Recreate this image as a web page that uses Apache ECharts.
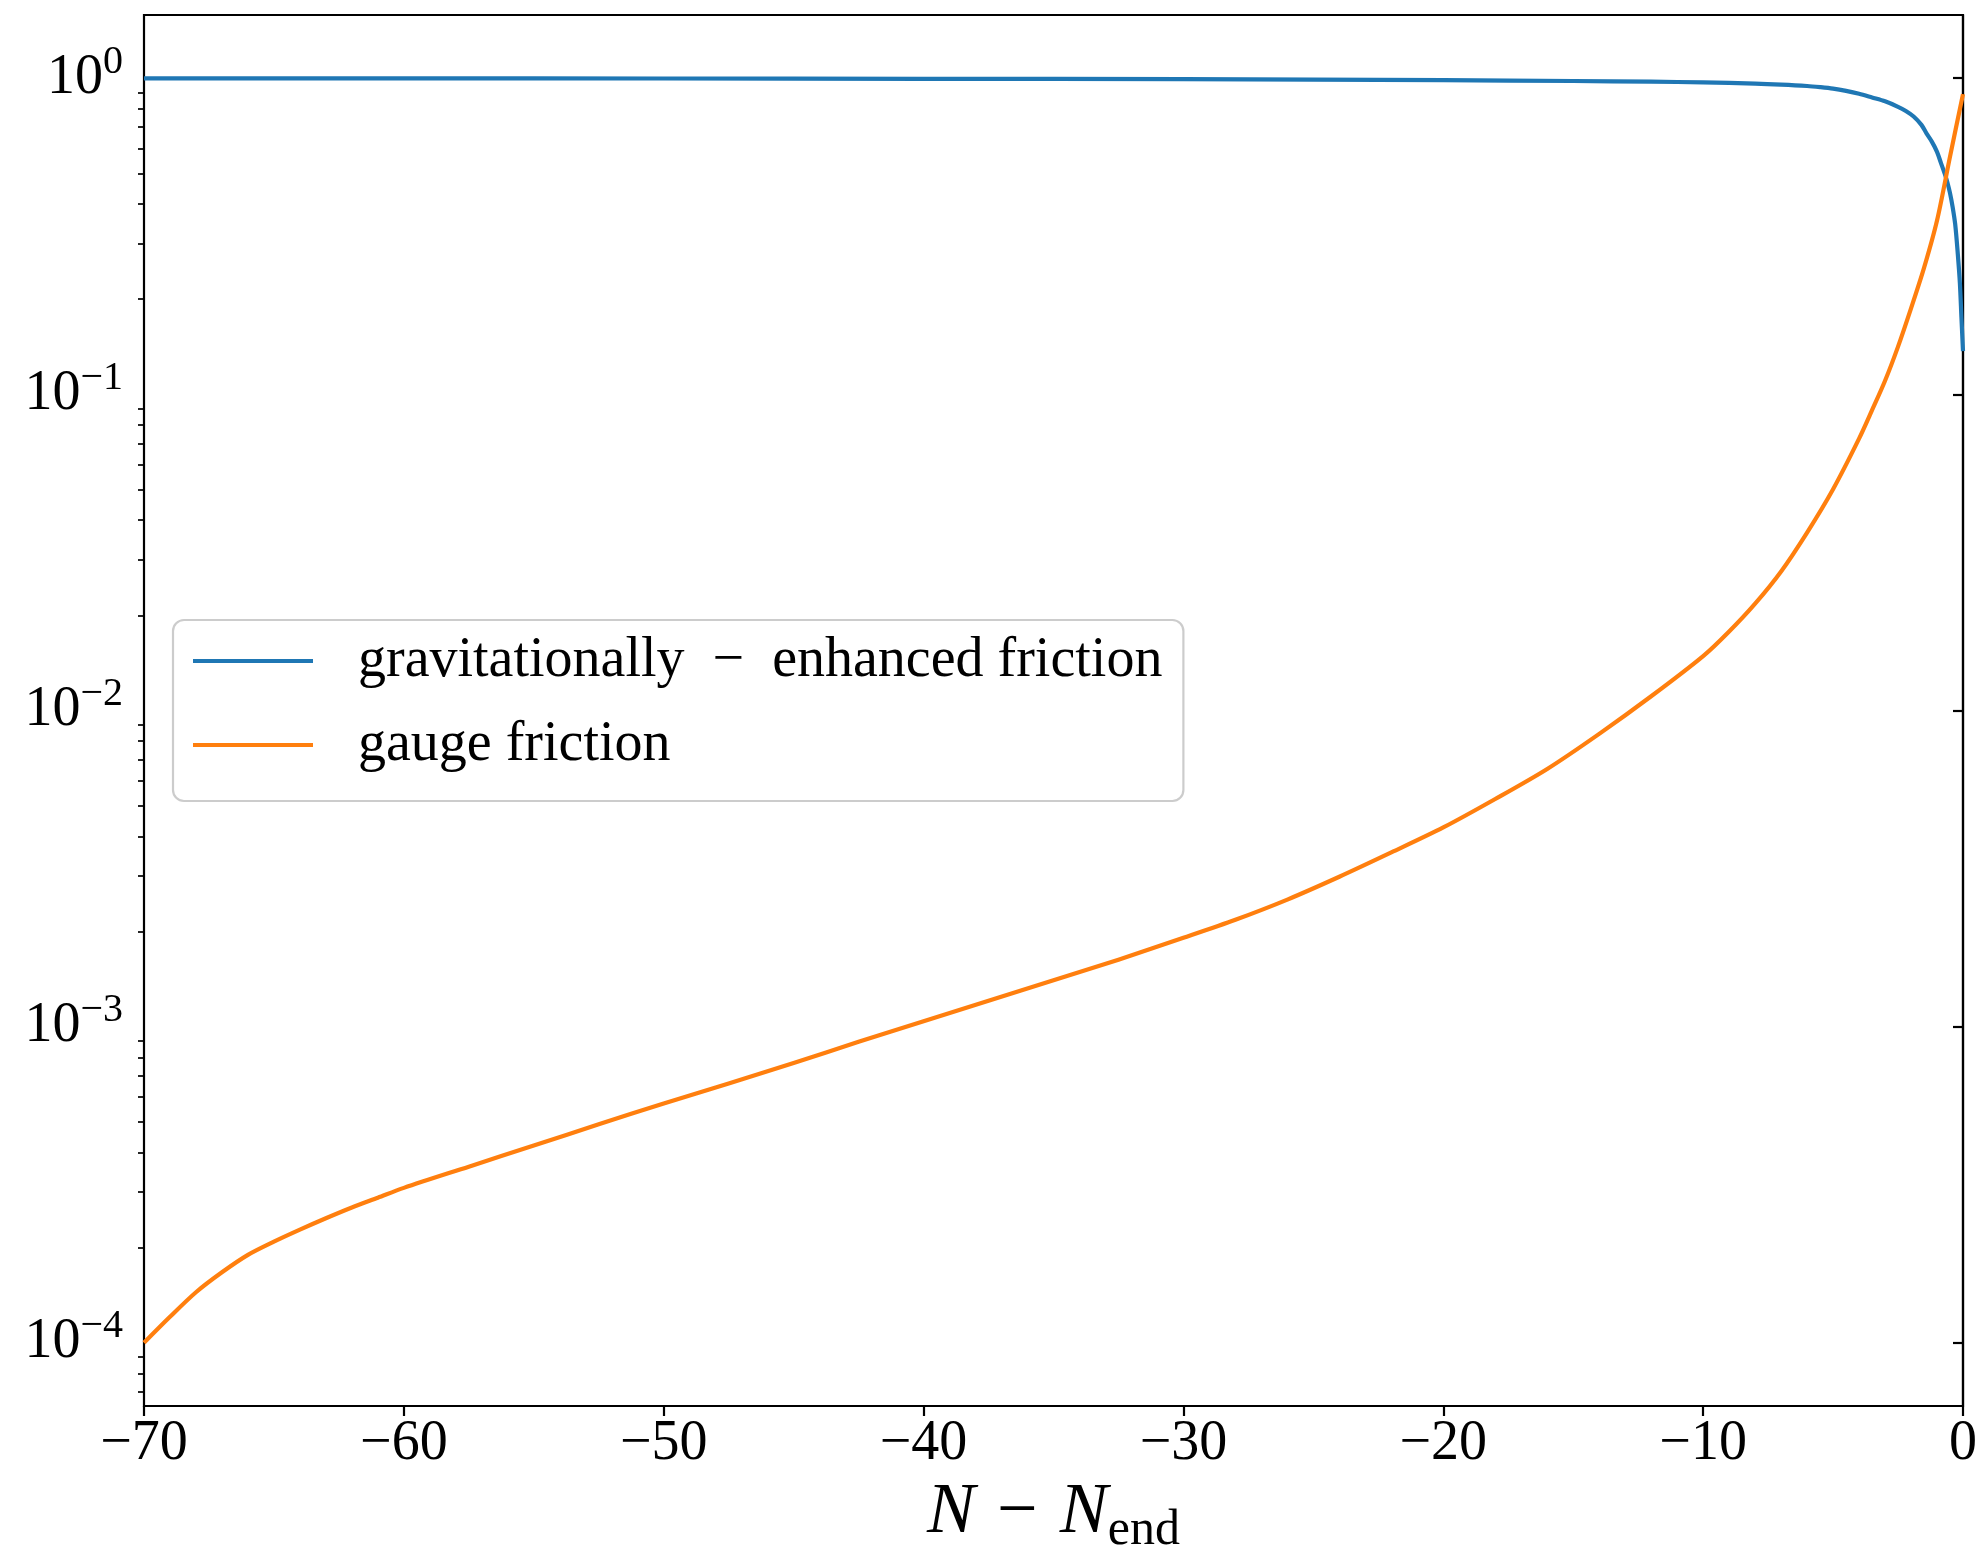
<!DOCTYPE html>
<html>
<head>
<meta charset="utf-8">
<script src="https://cdn.jsdelivr.net/npm/echarts@6/dist/echarts.min.js"></script>
<style>
html,body{margin:0;padding:0;background:#fff;}
#c{width:1977px;height:1556px;}
</style>
</head>
<body>
<div id="c"></div>
<script>
// ---- data ----
const seriesNames = ['gravitationally\u2002−\u2002enhanced friction', 'gauge friction'];

const gravX = [-70, -60, -50, -40, -30, -25, -20, -15, -12, -10, -8, -7, -6, -5.5, -5, -4.5, -4, -3.5, -3, -2.5, -2.2, -1.9, -1.6, -1.4, -1.2, -1.0, -0.85, -0.7, -0.6, -0.5, -0.4, -0.3, -0.2, -0.12, -0.06, 0];
const gravY = [0.9995, 0.999, 0.998, 0.996, 0.993, 0.990, 0.986, 0.980, 0.975, 0.970, 0.962, 0.955, 0.945, 0.937, 0.927, 0.912, 0.893, 0.869, 0.845, 0.812, 0.788, 0.757, 0.712, 0.668, 0.630, 0.585, 0.540, 0.498, 0.468, 0.433, 0.392, 0.345, 0.278, 0.225, 0.175, 0.137];

const gaugeX = [-70, -69, -68, -67, -66, -65, -64, -63, -62, -61, -60, -57.5, -55, -52.5, -50, -47.5, -45, -42.5, -40, -37.5, -35, -32.5, -30, -28, -26, -24, -22, -20, -18, -16, -14, -12, -10, -9, -8, -7, -6, -5, -4, -3.5, -3, -2.5, -2, -1.5, -1, -0.5, 0];
const gaugeY = [1.000e-4, 1.208e-4, 1.445e-4, 1.671e-4, 1.897e-4, 2.089e-4, 2.280e-4, 2.477e-4, 2.679e-4, 2.877e-4, 3.090e-4, 3.606e-4, 4.207e-4, 4.909e-4, 5.715e-4, 6.607e-4, 7.674e-4, 8.954e-4, 1.040e-3, 1.208e-3, 1.403e-3, 1.629e-3, 1.910e-3, 2.178e-3, 2.523e-3, 2.979e-3, 3.556e-3, 4.266e-3, 5.248e-3, 6.531e-3, 8.433e-3, 1.109e-2, 1.486e-2, 1.778e-2, 2.178e-2, 2.754e-2, 3.656e-2, 5.012e-2, 7.244e-2, 8.913e-2, 0.1104, 0.1416, 0.1871, 0.2512, 0.3548, 0.5649, 0.891];

const xTicks = [-70, -60, -50, -40, -30, -20, -10, 0];
const xTickLabels = ['−70', '−60', '−50', '−40', '−30', '−20', '−10', '0'];
const yTickValues = [1e-4, 1e-3, 1e-2, 1e-1, 1];
const yTickExponents = ['−4', '−3', '−2', '−1', '0'];
const yMinorTicks = [
  7e-5, 8e-5, 9e-5,
  2e-4, 3e-4, 4e-4, 5e-4, 6e-4, 7e-4, 8e-4, 9e-4,
  2e-3, 3e-3, 4e-3, 5e-3, 6e-3, 7e-3, 8e-3, 9e-3,
  2e-2, 3e-2, 4e-2, 5e-2, 6e-2, 7e-2, 8e-2, 9e-2,
  0.2, 0.3, 0.4, 0.5, 0.6, 0.7, 0.8, 0.9
];
const yMinLog = -4.2, yMaxLog = 0.2;

// ---- chart ----
const FONT = 'Liberation Serif';
const chart = echarts.init(document.getElementById('c'), null, {renderer: 'canvas'});

function pairs(xs, ys) { return xs.map((x, i) => [x, ys[i]]); }

const option = {
  animation: false,
  backgroundColor: '#ffffff',
  grid: {left: 144, right: 14, top: 15, bottom: 150, show: true, borderColor: '#000', borderWidth: 2.2, containLabel: false, outerBoundsMode: 'none'},
  legend: {
    orient: 'vertical',
    left: 173, top: 620,
    data: seriesNames.map(n => ({name: n, icon: 'rect'})),
    itemWidth: 120, itemHeight: 4.2, itemGap: 14,
    padding: [6, 21, 21, 20],
    backgroundColor: 'rgba(255,255,255,0.8)',
    borderColor: '#cccccc', borderWidth: 2.2, borderRadius: 11,
    selectedMode: false,
    textStyle: {fontFamily: FONT, fontSize: 56, color: '#000', lineHeight: 56, padding: [14, 0, 0, 40]}
  },
  xAxis: {
    type: 'value', min: -70, max: 0, interval: 10,
    axisLine: {onZero: false, lineStyle: {color: '#000', width: 2.2}},
    axisTick: {length: 10, lineStyle: {color: '#000', width: 2.2}},
    splitLine: {show: false},
    axisLabel: {
      fontFamily: FONT, fontSize: 56, color: '#000', margin: 10,
      formatter: v => { const i = xTicks.indexOf(v); return i >= 0 ? xTickLabels[i] : ''; }
    },
    name: '{i|N}{m| − }{i|N}{sub|end}',
    nameLocation: 'middle', nameGap: 50,
    nameTextStyle: {
      color: '#000',
      rich: {
        i: {fontFamily: FONT, fontStyle: 'italic', fontSize: 72, lineHeight: 86, color: '#000'},
        m: {fontFamily: FONT, fontSize: 72, lineHeight: 86, color: '#000', padding: [0, 4, 0, 4]},
        sub: {fontFamily: FONT, fontSize: 50, lineHeight: 46, verticalAlign: 'bottom', color: '#000'}
      }
    }
  },
  yAxis: [
    {
      type: 'log', logBase: 10,
      min: Math.pow(10, yMinLog), max: Math.pow(10, yMaxLog),
      axisLine: {lineStyle: {color: '#000', width: 2.2}},
      axisTick: {length: 10, customValues: yTickValues, lineStyle: {color: '#000', width: 2.2}},
      minorTick: {show: false},
      splitLine: {show: false},
      axisLabel: {
        customValues: yTickValues,
        margin: 21,
        formatter: v => {
          let best = 0, bd = Infinity;
          yTickValues.forEach((t, i) => { const d = Math.abs(Math.log10(t) - Math.log10(v)); if (d < bd) { bd = d; best = i; } });
          return '{b|10}{s|' + yTickExponents[best] + '}';
        },
        rich: {
          b: {fontFamily: FONT, fontSize: 56, lineHeight: 72, color: '#000'},
          s: {fontFamily: FONT, fontSize: 40, lineHeight: 40, verticalAlign: 'top', color: '#000'}
        }
      }
    },
    {
      type: 'log', logBase: 10, position: 'left',
      min: Math.pow(10, yMinLog), max: Math.pow(10, yMaxLog),
      axisLine: {show: false},
      axisTick: {length: 6, customValues: yMinorTicks, lineStyle: {color: '#000', width: 1.7}},
      minorTick: {show: false},
      splitLine: {show: false},
      axisLabel: {show: false}
    }
  ],
  series: [
    {
      name: seriesNames[0], type: 'line', yAxisIndex: 0,
      data: pairs(gravX, gravY),
      symbol: 'none', showSymbol: false, smooth: 0.3,
      lineStyle: {color: '#1f77b4', width: 4.2, join: 'round'},
      itemStyle: {color: '#1f77b4'}
    },
    {
      name: seriesNames[1], type: 'line', yAxisIndex: 0,
      data: pairs(gaugeX, gaugeY),
      symbol: 'none', showSymbol: false, smooth: 0.3,
      lineStyle: {color: '#ff7f0e', width: 4.2, join: 'round'},
      itemStyle: {color: '#ff7f0e'}
    }
  ]
};
chart.setOption(option);
</script>
</body>
</html>
